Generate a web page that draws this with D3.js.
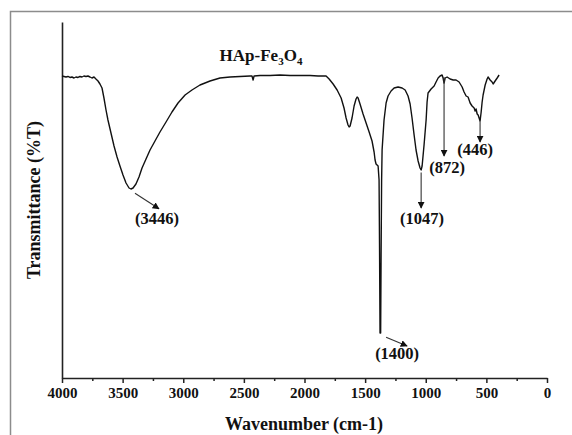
<!DOCTYPE html>
<html>
<head>
<meta charset="utf-8">
<script src="https://cdn.jsdelivr.net/npm/d3@7/dist/d3.min.js"></script>
<style>
  html, body { margin: 0; padding: 0; background: #fff; }
  svg { display: block; }
  text { font-family: "Liberation Serif", "Times New Roman", serif; font-weight: bold; fill: #111; }
</style>
</head>
<body>
<svg id="chart" width="572" height="435"></svg>
<script>
// ---- Data ----
const wavenumber = [
  4000,3984,3967,3951,3934,3918,3901,3885,3868,3852,3835,3819,3802,3786,3769,3753,3736,3720,3703,3687,
  3670,3654,3637,3621,3596,3571,3546,3522,3497,3472,3447,3431,3414,3390,3365,3340,3307,3274,3233,3192,3142,3093,3043,2985,2928,2862,2779,2697,2614,2532,2449,2433,2424,2416,2367,2284,2202,2119,2037,1954,1888,1855,
  1822,1797,1764,1731,1698,1674,1657,1641,1632,1624,1608,1591,1575,1566,1558,1542,1517,1492,1467,1443,1426,1418,1410,1393,1385,1381,1377,1372,1368,1364,1360,1344,1327,1311,1286,1261,1228,1195,1170,1146,1129,1113,1096,1080,1063,1047,1038,1030,1014,997,989,981,956,931,915,898,882,865,857,849,840,824,799,774,750,725,700,684,667,651,634,618,601,593,585,576,568,560,552,543,535,527,510,494,486,469,453,444,428,411,395
];
const transmittance = [
  85.5,85.38,85.25,85.38,85.13,85.25,85,85.25,85.13,85.38,85.25,85.5,85.38,85.5,85.25,85,85.25,84.75,84.25,83.5,
  82.5,80,77,74.5,71.25,68,65.25,63,60.75,58.75,57.5,57.25,57.5,58.5,60.25,62.5,64.75,67,69.25,71.5,74,76.5,78.75,80.75,82,83.25,84.25,85,85.25,85.38,85.5,85.5,84.5,85.5,85.63,85.63,85.75,85.63,85.63,85.63,85.5,85.5,
  85.5,84.75,83.5,82,80,77.5,75,73.25,72.75,73,75,78,79.75,80.25,80,78.5,76,73.75,71.5,69.25,66.5,64.5,63.5,63,59.5,42,21.25,21.25,42,59.5,67,74.5,78.75,80.5,81.75,82.5,82.75,82.5,82,80.5,78.5,75,70.75,67,64.25,62.5,62,63,68.25,74.5,79,81.25,82.25,83,84,85,85.5,85.75,85,83.75,85,85.25,84.75,84.5,84.5,84,82.75,81.5,80.5,80.25,78.75,78,77.5,76.75,77.25,76,75.75,75,74.25,76.5,79,80.75,83.25,84.75,85.25,84.5,84,83.5,84.25,85,85.75
];
const xTicks = [4000, 3500, 3000, 2500, 2000, 1500, 1000, 500, 0];
const xMinorTicks = [3750, 3250, 2750, 2250, 1750, 1250, 750, 250];
const seriesName = "HAp-Fe";
const xTitle = "Wavenumber (cm-1)";
const yTitle = "Transmittance (%T)";
// peak annotations: label, arrow start (w,T), arrow end (w,T), label position (w,T)
const peakLabels = ["(3446)", "(1400)", "(1047)", "(872)", "(446)"];
const arrowFromW = [3398, 1327, 1038, 849, 552];
const arrowFromT = [56.2, 20.2, 61.4, 85.2, 74.2];
const arrowToW   = [3200, 1154, 1038, 849, 552];
const arrowToT   = [52.3, 18.0, 52.5, 65.5, 69.0];
const labelW     = [3216, 1236, 1030, 824, 593];
const labelT     = [48.5, 14.8, 48.5, 61.2, 65.8];

// ---- Layout ----
const svg = d3.select("#chart");
const mLeft = 62, mRight = 547, mTop = 22, mBottom = 378;

const x = d3.scaleLinear().domain([4000, 0]).range([mLeft, mRight]);
const y = d3.scaleLinear().domain([10, 99]).range([mBottom, mTop]);

// outer frame (gray, open to the right/bottom)
svg.append("path")
  .attr("d", `M10.5,435 V11.5 H572`)
  .attr("fill", "none").attr("stroke", "#8c8c8c").attr("stroke-width", 1.5);

// defs: arrow head
svg.append("defs").append("marker")
  .attr("id", "arrow").attr("viewBox", "0 0 10 10")
  .attr("refX", 9).attr("refY", 5)
  .attr("markerWidth", 7).attr("markerHeight", 7)
  .attr("markerUnits", "userSpaceOnUse")
  .attr("orient", "auto")
  .append("path").attr("d", "M0,0 L10,5 L0,10 z").attr("fill", "#111");

// x axis (major)
const xAxis = d3.axisBottom(x).tickValues(xTicks).tickFormat(d3.format("d"))
  .tickSize(5).tickSizeOuter(0).tickPadding(4);
const gx = svg.append("g").attr("transform", `translate(0,${mBottom})`).call(xAxis);
gx.select(".domain").attr("stroke", "#222").attr("stroke-width", 1.6);
gx.selectAll(".tick line").attr("stroke", "#222").attr("stroke-width", 1.5);
gx.selectAll(".tick text").attr("font-size", "15px")
  .style("font-family", '"Liberation Serif", "Times New Roman", serif').style("font-weight", "bold").attr("fill", "#111");

// x axis (minor)
const xMinor = d3.axisBottom(x).tickValues(xMinorTicks).tickSize(3).tickSizeOuter(0).tickFormat("");
const gxm = svg.append("g").attr("transform", `translate(0,${mBottom})`).call(xMinor);
gxm.select(".domain").remove();
gxm.selectAll(".tick line").attr("stroke", "#222").attr("stroke-width", 1.5);

// y axis (line only)
const yAxis = d3.axisLeft(y).tickValues([]).tickSizeOuter(0);
const gy = svg.append("g").attr("transform", `translate(${mLeft},0)`).call(yAxis);
gy.select(".domain").attr("stroke", "#222").attr("stroke-width", 1.6);

// spectrum line
const data = d3.zip(wavenumber, transmittance);
const line = d3.line().x(d => x(d[0])).y(d => y(d[1]));
svg.append("path").datum(data)
  .attr("d", line)
  .attr("fill", "none").attr("stroke", "#111").attr("stroke-width", 1.4)
  .attr("stroke-linejoin", "round");

// arrows and peak labels
peakLabels.forEach((lab, i) => {
  svg.append("line")
    .attr("x1", x(arrowFromW[i])).attr("y1", y(arrowFromT[i]))
    .attr("x2", x(arrowToW[i])).attr("y2", y(arrowToT[i]))
    .attr("stroke", "#333").attr("stroke-width", 1.1)
    .attr("marker-end", "url(#arrow)");
  svg.append("text")
    .attr("x", x(labelW[i])).attr("y", y(labelT[i]))
    .attr("text-anchor", "middle").attr("font-size", "16.5px")
    .text(lab);
});

// series title with subscripts
const t = svg.append("text").attr("x", 261).attr("y", 61).attr("text-anchor", "middle").attr("font-size", "17px");
t.append("tspan").text(seriesName);
t.append("tspan").attr("font-size", "11px").attr("dy", 4).text("3");
t.append("tspan").attr("dy", -4).text("O");
t.append("tspan").attr("font-size", "11px").attr("dy", 4).text("4");

// axis titles
svg.append("text").attr("x", 304).attr("y", 430).attr("text-anchor", "middle")
  .attr("font-size", "18px").text(xTitle);
svg.append("text")
  .attr("transform", `translate(40,200) rotate(-90)`)
  .attr("text-anchor", "middle").attr("font-size", "18px").text(yTitle);
</script>
</body>
</html>
